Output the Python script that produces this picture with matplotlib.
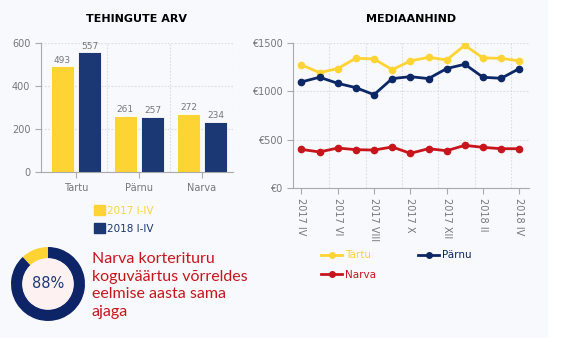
import matplotlib.pyplot as plt
from matplotlib.patches import Patch, Rectangle
from matplotlib.lines import Line2D

# data
cities = ['Tartu', 'Pärnu', 'Narva']
deals_2017 = [493, 261, 272]
deals_2018 = [557, 257, 234]

months = ['2017 IV', '2017 V', '2017 VI', '2017 VII', '2017 VIII', '2017 IX', '2017 X',
          '2017 XI', '2017 XII', '2018 I', '2018 II', '2018 III', '2018 IV']
tick_labels = ['2017 IV', '2017 VI', '2017 VIII', '2017 X', '2017 XII', '2018 II', '2018 IV']
price_tartu = [1275, 1195, 1237, 1344, 1337, 1226, 1316, 1354, 1327, 1479, 1347, 1344, 1316]
price_parnu = [1098, 1147, 1084, 1039, 966, 1133, 1153, 1133, 1237, 1282, 1147, 1136, 1237]
price_narva = [398, 371, 412, 395, 391, 423, 357, 405, 384, 440, 419, 405, 405]

narva_share = 88

YELLOW = '#fdd433'
NAVY = '#1b3774'
LNAVY = '#0c2766'
RED = '#c8151c'
GRAY = '#777777'
GRID = '#dddddd'
BG = '#f8f9fd'

fig = plt.figure(figsize=(5.7, 3.46), dpi=100, facecolor='white')
fig.patches.append(Rectangle((0, 8 / 346), 548 / 570, 1, transform=fig.transFigure,
                             facecolor=BG, edgecolor='none', zorder=-10))

def style_axes(ax):
    ax.set_facecolor('none')
    for s in ['top', 'right']:
        ax.spines[s].set_visible(False)
    for s in ['left', 'bottom']:
        ax.spines[s].set_color('#aaaaaa')
    ax.tick_params(colors='#aaaaaa', labelcolor=GRAY, labelsize=7, length=4)
    ax.grid(True, axis='y', color=GRID, linestyle=(0, (1.5, 1.5)), linewidth=0.8)

# bar chart
ax1 = fig.add_axes([0.0714, 0.502, 0.337, 0.373])
style_axes(ax1)
x = list(range(len(cities)))
w = 0.37
b1 = ax1.bar([i - 0.215 for i in x], deals_2017, w, color=YELLOW, edgecolor='white', linewidth=0.6)
b2 = ax1.bar([i + 0.215 for i in x], deals_2018, w, color=NAVY, edgecolor='white', linewidth=0.6)
for bars in (b1, b2):
    for r in bars:
        ax1.text(r.get_x() + r.get_width() / 2, r.get_height() + 8, str(int(r.get_height())),
                 ha='center', va='bottom', fontsize=6.5, color=GRAY)
ax1.set_xlim(-0.56, 2.49)
ax1.set_ylim(0, 600)
ax1.set_yticks([0, 200, 400, 600])
ax1.set_xticks(x)
ax1.set_xticklabels(cities)
ax1.set_xticks([0.5, 1.5, 2.49], minor=True)
ax1.tick_params(axis='x', which='minor', length=0)
ax1.grid(True, axis='x', which='minor', color=GRID, linestyle=(0, (1.5, 1.5)), linewidth=0.8)
ax1.set_axisbelow(True)
ax1.set_title('TEHINGUTE ARV', fontsize=8, fontweight='bold', pad=15)

fig.legend(handles=[Patch(color=YELLOW), Patch(color=NAVY)], labels=['2017 I-IV', '2018 I-IV'],
           labelcolor=[YELLOW, NAVY], loc='upper left', bbox_to_anchor=(0.155, 1 - 200 / 346),
           frameon=False, fontsize=7.5, handlelength=1.1, handleheight=1.1, handletextpad=0.2,
           labelspacing=0.7, borderpad=0)

# line chart
ax2 = fig.add_axes([0.514, 0.4575, 0.414, 0.4175])
style_axes(ax2)
idx = list(range(len(months)))
ax2.plot(idx, price_tartu, color=YELLOW, marker='o', markersize=4.5, linewidth=2)
ax2.plot(idx, price_parnu, color=LNAVY, marker='o', markersize=4.5, linewidth=2)
ax2.plot(idx, price_narva, color=RED, marker='o', markersize=4.5, linewidth=2)
ax2.set_xlim(-0.46, 12.53)
ax2.set_ylim(0, 1500)
ax2.set_yticks([0, 500, 1000, 1500])
ax2.set_yticklabels(['€0', '€500', '€1000', '€1500'])
ax2.set_xticks(idx[::2])
ax2.set_xticklabels(tick_labels, rotation=-90)
ax2.set_xticks([i + 1.55 for i in idx[:12:2]], minor=True)
ax2.tick_params(axis='x', which='minor', length=0)
ax2.grid(True, axis='x', which='minor', color=GRID, linestyle=(0, (1.5, 1.5)), linewidth=0.8)
ax2.set_axisbelow(True)
ax2.set_title('MEDIAANHIND', fontsize=8, fontweight='bold', pad=15)

# legend: Tartu, Pärnu on first row, Narva on second (column-wise fill)
line_handles = [Line2D([], [], color=c, marker='o', markersize=4, linewidth=2)
                for c in (YELLOW, RED, LNAVY)]
fig.legend(handles=line_handles, labels=['Tartu', 'Narva', 'Pärnu'],
           labelcolor=[YELLOW, RED, LNAVY], loc='upper left', ncol=2,
           bbox_to_anchor=(316 / 570, 1 - 245 / 346), frameon=False, fontsize=7.5,
           handlelength=2.0, handletextpad=0.3, columnspacing=4.05, labelspacing=0.9, borderpad=0)

# donut
ax3 = fig.add_axes([0.0193, 0.0723, 0.1298, 0.2139])
ax3.pie([100 - narva_share, narva_share], colors=[YELLOW, '#0d2566'], startangle=90,
        counterclock=True, radius=1, wedgeprops=dict(width=0.32, edgecolor='none'))
ax3.add_patch(plt.Circle((0, 0), 0.68, color='#fdf1f1'))
ax3.text(0, 0, f'{narva_share}%', ha='center', va='center', fontsize=10.5, color=NAVY)
ax3.set_xlim(-1, 1)
ax3.set_ylim(-1, 1)
ax3.set_aspect('equal')

fig.text(92 / 570, 1 - 252 / 346,
         'Narva korterituru\nkoguväärtus võrreldes\neelmise aasta sama\najaga',
         ha='left', va='top', fontsize=11.5, color=RED, family='Lato', linespacing=1.33)

fig.savefig('out.png', dpi=100, facecolor=fig.get_facecolor())
